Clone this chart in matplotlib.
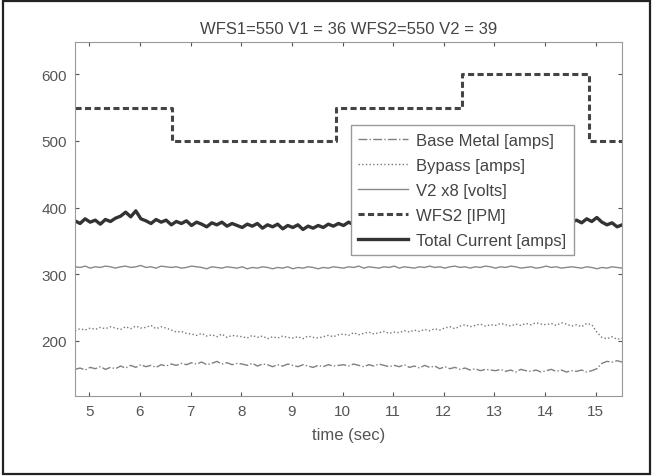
import matplotlib
matplotlib.use("Agg")
import matplotlib.pyplot as plt
from matplotlib.patches import Rectangle
import numpy as np

# sampled signals, one value every 0.1 s starting at t0
t0 = 4.72
dt = 0.1

total_current = [
    380, 376, 383, 378, 381, 375, 382, 379,
    384, 387, 393, 386, 395, 383, 380, 376, 382, 378, 381,
    374, 379, 376, 380,
    373, 378, 375, 371, 377, 374, 378, 372, 376, 373,
    370, 375, 372, 376, 369, 374, 371, 375, 368, 373,
    370, 374, 367, 372, 369, 373, 370, 375, 372, 376,
    373, 378, 374, 377, 373, 376, 379, 374, 377, 375,
    378, 374, 377, 380, 375, 378, 374, 377, 379, 375,
    380, 376, 379, 382, 377, 380, 376, 381, 378, 382,
    379, 383, 378, 381, 384, 379, 382, 378, 383, 380,
    384, 380, 383, 379, 382, 378, 381, 377,
    383, 379, 385, 378, 374, 377, 371, 374,
]

v2_x8 = [
    311, 310, 312, 309, 311, 310, 312, 311, 309, 311,
    312, 310, 311, 313, 310, 311, 309, 312, 311, 310,
    311, 309, 310, 312, 311, 310, 308, 311, 310, 309,
    311, 310, 309, 311, 308, 310, 309, 311, 310, 308,
    310, 309, 311, 308, 310, 309, 311, 310, 308, 310,
    309, 311, 310, 309, 311, 310, 312, 309, 311, 310,
    309, 311, 310, 312, 309, 311, 310, 309, 311, 310,
    312, 310, 311, 309, 311, 312, 310, 311, 309, 311,
    310, 312, 311, 309, 311, 310, 312, 311, 309, 310,
    311, 309, 310, 312, 310, 311, 309, 310, 311, 310,
    309, 311, 310, 308, 310, 309, 311, 310, 309,
]

bypass = [
    215, 218, 216, 219, 217, 220, 218, 221,
    219, 217, 221, 218, 222, 219, 220, 223, 218, 221, 219,
    216, 213, 214, 211,
    210, 208, 211, 207, 209, 206, 210, 205, 208, 207,
    206, 204, 208, 205, 207, 203, 206, 204, 207, 205,
    204, 206, 203, 207, 205, 204, 206, 208, 206, 209,
    210, 208, 212, 209, 211, 213, 210, 212, 214, 211,
    213, 212, 215, 213, 216, 214, 217, 215, 218, 216,
    219, 221, 218, 222, 224, 221, 223, 225, 222, 224,
    223, 226, 224, 222, 225, 223, 226, 224, 227, 225,
    224, 226, 223, 227, 225, 222, 224, 221,
    226, 224, 213, 205, 203, 206, 202, 204,
]

base_metal = [
    157, 159, 156, 160, 158, 161, 157, 160,
    158, 162, 159, 163, 160, 164, 161, 163, 160, 164, 162,
    165, 163, 166, 164,
    167, 165, 168, 164, 166, 169, 165, 167, 164, 166,
    165, 163, 166, 162, 165, 164, 161, 164, 162, 165,
    163, 161, 164, 162, 160, 163, 161, 164, 162, 163,
    164, 162, 165, 163, 161, 164, 162, 165, 163, 161,
    163, 161, 164, 160, 162, 159, 163, 160, 162, 158,
    161, 158, 160, 157, 159, 156, 158, 155, 157, 156,
    155, 157, 154, 156, 153, 157, 155, 154, 156, 153,
    155, 157, 154, 156, 153, 155, 154, 156,
    153, 155, 158, 166, 169, 168, 170, 168,
]

# wire feed speed set points (step changes)
wfs_times = [4.72, 6.63, 9.87, 12.36, 14.87, 15.52]
wfs_levels = [550, 500, 550, 600, 500, 500]

plt.rcParams['font.family'] = ['Liberation Sans', 'DejaVu Sans']
plt.rcParams['font.size'] = 11

t = t0 + dt * np.arange(len(total_current))

fig = plt.figure(figsize=(6.55, 4.77), dpi=100)
ax = fig.add_axes([0.1145, 0.1677, 0.8346, 0.7415])

ax.plot(t, base_metal, color='#808080', lw=1.0, ls='-.', label='Base Metal [amps]')
ax.plot(t, bypass, color='#777777', lw=1.0, ls=':', label='Bypass [amps]')
ax.plot(t, v2_x8, color='#888888', lw=1.0, ls='-', label='V2 x8 [volts]')
ax.step(wfs_times, wfs_levels, where='post', color='#444444', lw=2.2,
        dashes=(2.0, 1.1), label='WFS2 [IPM]')
ax.plot(t, total_current, color='#333333', lw=2.4, label='Total Current [amps]')

ax.set_xlim(4.72, 15.51)
ax.set_ylim(117, 648)
ax.set_xticks(range(5, 16))
ax.set_yticks([200, 300, 400, 500, 600])
ax.tick_params(direction='in', top=True, right=True, length=3, pad=6,
               colors='#555555', labelsize=11)
for s in ax.spines.values():
    s.set_color('#999999')

ax.set_title('WFS1=550 V1 = 36 WFS2=550 V2 = 39', color='#444444',
             fontsize=12, pad=7)
ax.set_xlabel('time (sec)', color='#555555', fontsize=12, labelpad=6)

leg = ax.legend(loc='upper left', bbox_to_anchor=(0.504, 0.766),
                borderaxespad=0, fancybox=False, framealpha=1,
                edgecolor='#999999', handlelength=3.0, handletextpad=0.5,
                labelspacing=0.6, borderpad=0.45, fontsize=12)
for txt in leg.get_texts():
    txt.set_color('#444444')

# outer frame around the whole picture
fig.patches.append(Rectangle((0.005, 0.005), 0.988, 0.99, transform=fig.transFigure,
                             fill=False, edgecolor='#222222', lw=1.6))

fig.savefig('out.png', dpi=100)
